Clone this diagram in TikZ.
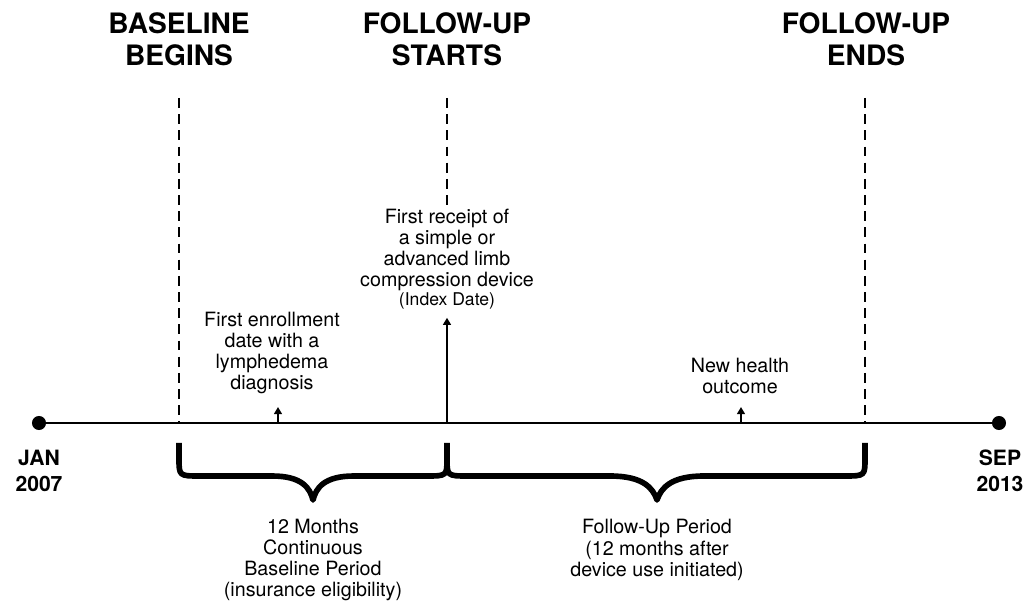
\documentclass[tikz,border=0pt]{standalone}
\usepackage{fontspec}
\setmainfont{TeX Gyre Heros}
\usetikzlibrary{arrows.meta}

\tikzset{
  milestone/.style={font=\bfseries\fontsize{20}{22.7}\selectfont, align=center},
  datelabel/.style={font=\bfseries\fontsize{15}{18.5}\selectfont, align=center},
  note/.style={font=\fontsize{14}{15}\selectfont, align=center, inner sep=0pt},
  enddot/.style={circle, fill=black, minimum size=10pt, inner sep=0pt},
  axis/.style={line width=1.5pt},
  marker/.style={dash pattern=on 7pt off 4.5pt, line width=1.7pt},
  pointer/.style={-{Triangle[width=5.5pt,length=5pt]}, line width=1.4pt},
  period/.style={line width=4pt, line join=round}
}

\begin{document}
\begin{tikzpicture}[x=0.025cm, y=-0.025cm]
  \useasboundingbox (0,0) rectangle (1026,602);

  % time line with its two ends
  \node[enddot] (jan) at (39,423) {};
  \node[enddot] (sep) at (999,423) {};
  \draw[axis] (jan) -- (sep);
  \node[datelabel] (janlbl) at (39,471) {JAN\\2007};
  \node[datelabel] (seplbl) at (1000,471) {SEP\\2013};

  \coordinate (tbase) at (179,423);
  \coordinate (tidx) at (447,423);
  \coordinate (tend) at (865,423);
  \coordinate (tenroll) at (278,423);
  \coordinate (toutcome) at (741,423);

  % milestones
  \node[milestone] (basehead) at (179,39) {BASELINE\\BEGINS};
  \node[milestone] (fustart) at (447,39) {FOLLOW-UP\\STARTS};
  \node[milestone] (fuend) at (866,39) {FOLLOW-UP\\ENDS};

  \coordinate (basetop) at (179,98);
  \coordinate (idxtop) at (447,98);
  \coordinate (idxstop) at (447,205);
  \coordinate (endtop) at (865,98);

  \draw[marker] (basetop) -- (tbase);
  \draw[marker] (idxtop) -- (idxstop);
  \draw[marker] (endtop) -- (tend);

  % events
  \node[note, anchor=south] (enrolltxt) at (272,394)
    {First enrollment\\date with a\\lymphedema\\diagnosis};
  \node[note, anchor=south] (idxtxt) at (447,310)
    {First receipt of\\a simple or\\advanced limb\\compression device\\[-1pt]\fontsize{12.5}{13}\selectfont(Index Date)};
  \node[note, anchor=south] (outcometxt) at (740,394)
    {New health\\outcome};

  \draw[pointer] (tenroll) -- ++(0,-16);
  \draw[pointer] (tidx) -- (idxtxt.south) [shorten >=5.5pt];
  \draw[pointer] (toutcome) -- ++(0,-16);

  % periods
  \draw[period] (179,443) -- (179,458) .. controls (179,476) .. (200,476)
    -- (272,476) .. controls (302,476) and (310,488) .. (313,500)
    .. controls (316,488) and (324,476) .. (354,476)
    -- (426,476) .. controls (447,476) .. (447,458) -- (447,443);
  \draw[period] (447,458) .. controls (447,476) .. (468,476)
    -- (610,476) .. controls (643,476) and (653,488) .. (657,500)
    .. controls (661,488) and (671,476) .. (704,476)
    -- (844,476) .. controls (865,476) .. (865,458) -- (865,443);

  \node[note] (basetxt) at (313,560)
    {12 Months\\Continuous\\Baseline Period\\(insurance eligibility)};
  \node[note] (futxt) at (657,550)
    {Follow-Up Period\\(12 months after\\device use initiated)};

\end{tikzpicture}
\end{document}
